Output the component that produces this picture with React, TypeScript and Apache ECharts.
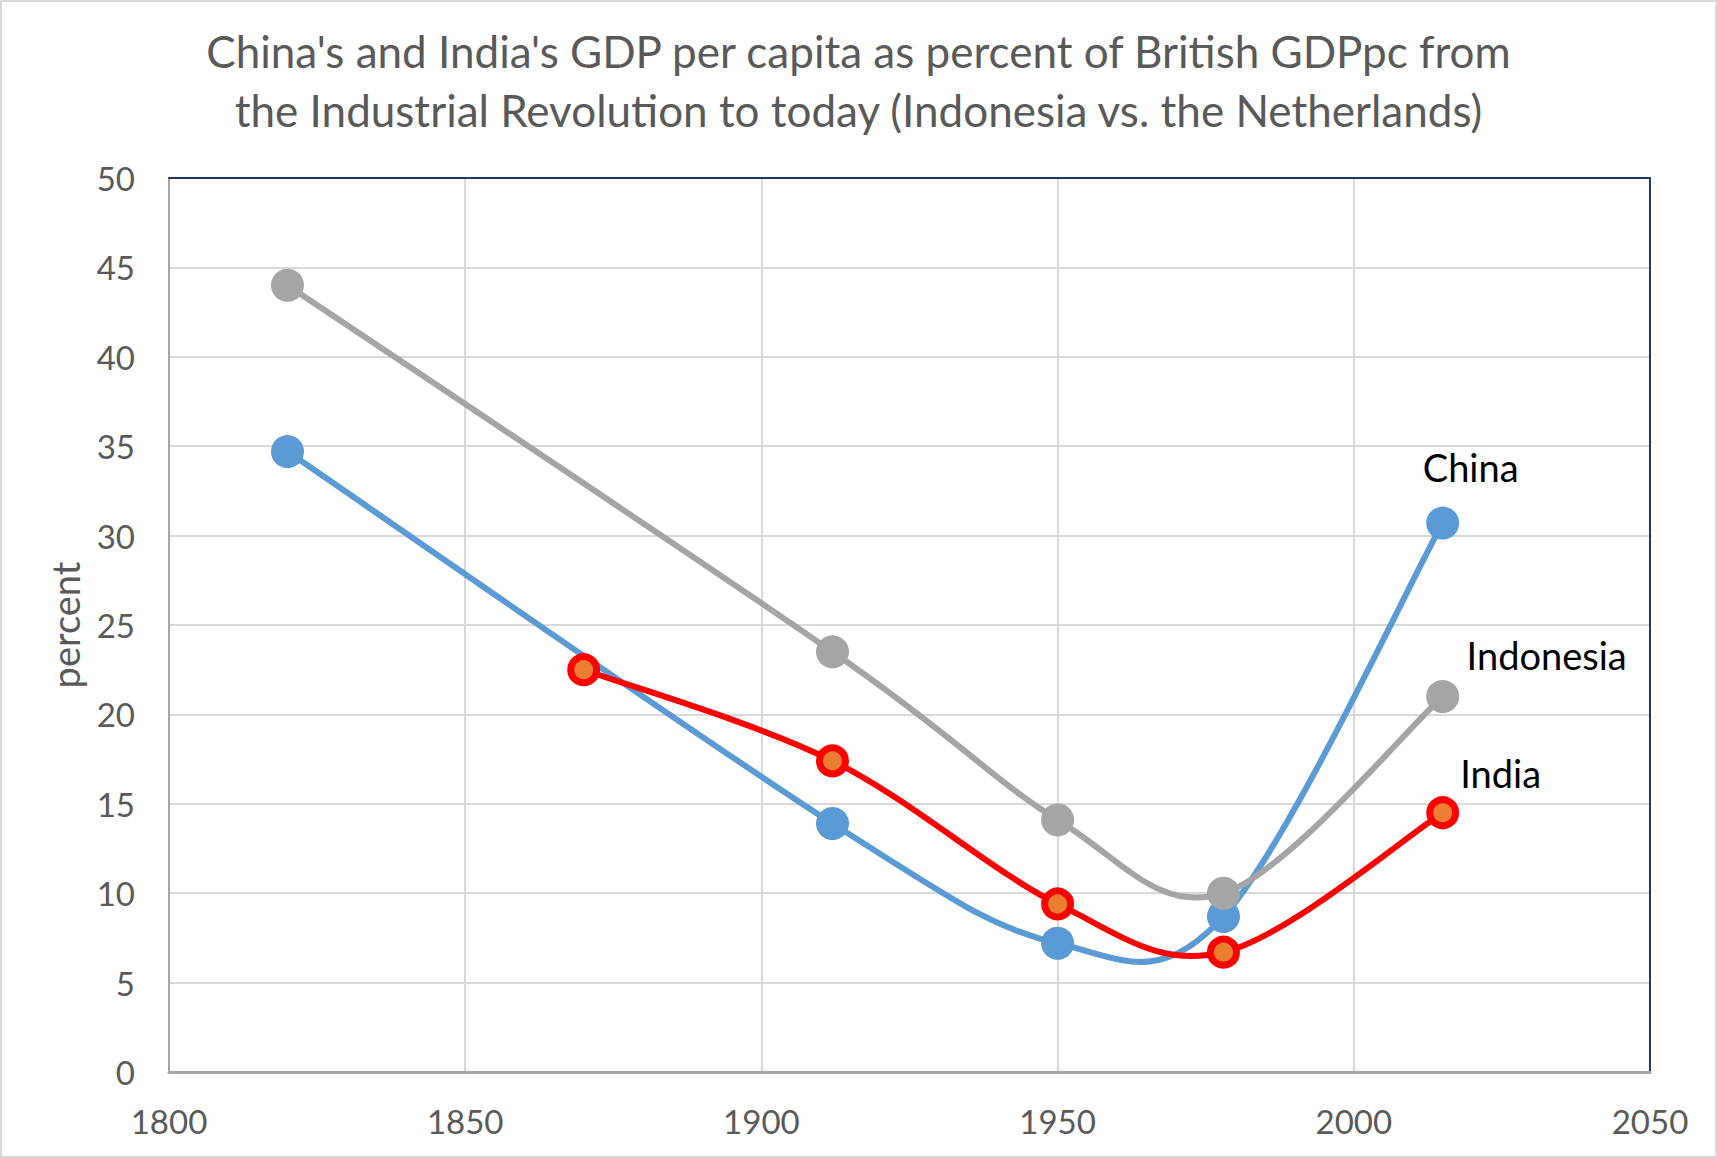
import React, { useEffect, useRef } from "react";
import * as echarts from "echarts";

const chinaYears = [1820, 1912, 1950, 1978, 2015];
const chinaValues = [34.7, 13.9, 7.2, 8.7, 30.7];
const indonesiaYears = [1820, 1912, 1950, 1978, 2015];
const indonesiaValues = [44.0, 23.5, 14.1, 10.0, 21.0];
const indiaYears = [1870, 1912, 1950, 1978, 2015];
const indiaValues = [22.5, 17.4, 9.4, 6.7, 14.5];

const titleLines = [
  "China's and India's GDP per capita as percent of British GDPpc from",
  "the Industrial Revolution to today (Indonesia vs. the Netherlands)",
];
const yAxisName = "percent";

const FONT = "Lato";
const W = 1717;
const H = 1158;
const LINE_W = 6;

function pairs(xs: number[], ys: number[]) {
  return xs.map((x, i) => [x, ys[i]]);
}

function withEndLabel(data: number[][], name: string, offset: number[]) {
  return data.map((d, i) =>
    i === data.length - 1
      ? {
          value: d,
          label: {
            show: true,
            position: "inside",
            offset,
            formatter: name,
            fontFamily: FONT,
            fontSize: 38,
            color: "#000000",
          },
        }
      : { value: d }
  );
}

// Smooth curve (Catmull-Rom style bezier, like a spreadsheet's smoothed line),
// positioned through the chart's own coordinate system.
function curveSeries(name: string, xs: number[], ys: number[], color: string) {
  const n = xs.length;
  return {
    name,
    type: "custom",
    data: pairs(xs, ys),
    encode: { x: 0, y: 1 },
    silent: true,
    renderItem: (params: any, api: any) => {
      const i = params.dataIndex;
      if (i >= n - 1) return { type: "group", children: [] };
      const c = (j: number) => {
        const k = Math.max(0, Math.min(n - 1, j));
        return api.coord([xs[k], ys[k]]);
      };
      const p0 = c(i - 1);
      const p1 = c(i);
      const p2 = c(i + 1);
      const p3 = c(i + 2);
      return {
        type: "bezierCurve",
        shape: {
          x1: p1[0],
          y1: p1[1],
          x2: p2[0],
          y2: p2[1],
          cpx1: p1[0] + (p2[0] - p0[0]) / 6,
          cpy1: p1[1] + (p2[1] - p0[1]) / 6,
          cpx2: p2[0] - (p3[0] - p1[0]) / 6,
          cpy2: p2[1] - (p3[1] - p1[1]) / 6,
        },
        style: { stroke: color, lineWidth: LINE_W, fill: "none", lineCap: "round" },
      };
    },
  };
}

function markerSeries(
  name: string,
  xs: number[],
  ys: number[],
  offset: number[],
  itemStyle: any,
  size: number
) {
  return {
    name,
    type: "scatter",
    data: withEndLabel(pairs(xs, ys), name, offset),
    symbol: "circle",
    symbolSize: size,
    itemStyle: { opacity: 1, ...itemStyle },
    emphasis: { disabled: true },
  };
}

export default function App() {
  const ref = useRef<HTMLDivElement>(null);
  useEffect(() => {
    if (!ref.current) return;
    const chart = echarts.init(ref.current, undefined, { renderer: "svg" });
    const yearLabel = (v: number) => String(v);
    chart.setOption({
      animation: false,
      backgroundColor: "#ffffff",
      title: {
        text: titleLines.join("\n"),
        left: "center",
        top: 16,
        textStyle: {
          fontFamily: FONT,
          fontWeight: "normal",
          fontSize: 44,
          lineHeight: 59,
          color: "#595959",
        },
      },
      graphic: [
        {
          type: "rect",
          shape: { x: 1, y: 1, width: W - 2, height: H - 2 },
          style: { fill: "none", stroke: "#D9D9D9", lineWidth: 2 },
          silent: true,
        },
      ],
      grid: {
        left: 169,
        right: 67,
        top: 178,
        bottom: 86,
      },
      xAxis: [
        {
          type: "value",
          min: 1800,
          max: 2050,
          interval: 50,
          axisLine: { show: true, onZero: false, lineStyle: { color: "#A6A6A6", width: 3 } },
          axisTick: { show: false },
          axisLabel: {
            fontFamily: FONT,
            fontSize: 33,
            color: "#595959",
            margin: 32,
            formatter: yearLabel,
          },
          splitLine: { show: true, lineStyle: { color: "#D9D9D9", width: 2 } },
        },
        {
          type: "value",
          position: "top",
          min: 1800,
          max: 2050,
          interval: 50,
          axisLine: { show: true, onZero: false, lineStyle: { color: "#1F3864", width: 2 } },
          axisTick: { show: false },
          axisLabel: { show: false },
          splitLine: { show: false },
        },
      ],
      yAxis: [
        {
          type: "value",
          min: 0,
          max: 50,
          interval: 5,
          name: yAxisName,
          nameLocation: "middle",
          nameGap: 85,
          nameTextStyle: { fontFamily: FONT, fontSize: 38, color: "#595959" },
          axisLine: { show: true, onZero: false, lineStyle: { color: "#A6A6A6", width: 2 } },
          axisTick: { show: false },
          axisLabel: { fontFamily: FONT, fontSize: 33, color: "#595959", margin: 34 },
          splitLine: { show: true, lineStyle: { color: "#D9D9D9", width: 2 } },
        },
        {
          type: "value",
          position: "right",
          min: 0,
          max: 50,
          interval: 5,
          axisLine: { show: true, onZero: false, lineStyle: { color: "#1F3864", width: 2 } },
          axisTick: { show: false },
          axisLabel: { show: false },
          splitLine: { show: false },
        },
      ],
      series: [
        curveSeries("China", chinaYears, chinaValues, "#5B9BD5"),
        markerSeries("China", chinaYears, chinaValues, [28, -56], { color: "#5B9BD5" }, 33),
        curveSeries("Indonesia", indonesiaYears, indonesiaValues, "#A5A5A5"),
        markerSeries("Indonesia", indonesiaYears, indonesiaValues, [104, -42], { color: "#A5A5A5" }, 33),
        curveSeries("India", indiaYears, indiaValues, "#FF0000"),
        markerSeries(
          "India",
          indiaYears,
          indiaValues,
          [58, -40],
          { color: "#ED7D31", borderColor: "#FF0000", borderWidth: 7 },
          26
        ),
      ],
    });
    return () => chart.dispose();
  }, []);
  return (
    <div
      ref={ref}
      style={{ position: "fixed", left: 0, top: 0, width: W, height: H }}
    />
  );
}
